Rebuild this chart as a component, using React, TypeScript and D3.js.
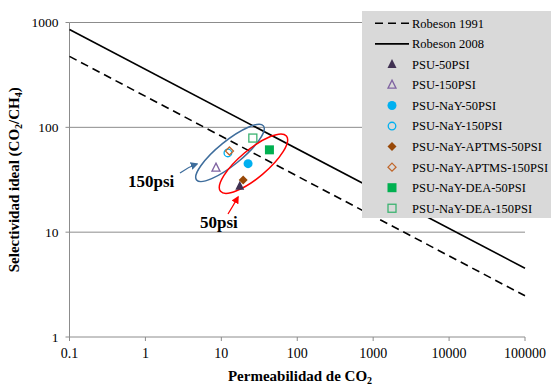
import React from "react";
import * as d3 from "d3";

const xTicks = [0.1, 1, 10, 100, 1000, 10000, 100000];
const xTickLabels = ["0.1", "1", "10", "100", "1000", "10000", "100000"];
const yTicks = [1, 10, 100, 1000];
const yTickLabels = ["1", "10", "100", "1000"];

const robeson1991 = [
  { x: 0.1, y: 475 },
  { x: 100000, y: 2.47 },
];
const robeson2008 = [
  { x: 0.1, y: 856 },
  { x: 100000, y: 4.53 },
];

type Pt = { name: string; x: number; y: number; shape: string; filled: boolean; color: string };
const points: Pt[] = [
  { name: "PSU-50PSI", x: 17.5, y: 27.5, shape: "triangle", filled: true, color: "#403152" },
  { name: "PSU-150PSI", x: 8.5, y: 41, shape: "triangle", filled: false, color: "#8064a2" },
  { name: "PSU-NaY-50PSI", x: 22.5, y: 45, shape: "circle", filled: true, color: "#00b0f0" },
  { name: "PSU-NaY-150PSI", x: 12.2, y: 57, shape: "circle", filled: false, color: "#00b0f0" },
  { name: "PSU-NaY-APTMS-50PSI", x: 19.4, y: 31.5, shape: "diamond", filled: true, color: "#984807" },
  { name: "PSU-NaY-APTMS-150PSI", x: 12.8, y: 59.5, shape: "diamond", filled: false, color: "#c0662a" },
  { name: "PSU-NaY-DEA-50PSI", x: 43, y: 61, shape: "square", filled: true, color: "#00b050" },
  { name: "PSU-NaY-DEA-150PSI", x: 26, y: 79, shape: "square", filled: false, color: "#3cb371" },
];

const ellipses = [
  { cx: 13, cy: 57, rx: 43, ry: 12, angle: -39, color: "#3e6d9c" },
  { cx: 26.5, cy: 45, rx: 43, ry: 14, angle: -40, color: "#ff0000" },
];

const W = 551;
const H = 385;
const left = 69.5;
const right = 525;
const top = 22.5;
const bottom = 337;

const x = d3.scaleLog().domain([0.1, 100000]).range([left, right]);
const y = d3.scaleLog().domain([1, 1000]).range([bottom, top]);

const line = d3
  .line<{ x: number; y: number }>()
  .x((d) => x(d.x))
  .y((d) => y(d.y));

const FONT = '"Liberation Serif", "Times New Roman", Times, serif';

function Marker({ shape, filled, color, cx, cy }: { shape: string; filled: boolean; color: string; cx: number; cy: number }) {
  const fill = filled ? color : "none";
  const sw = filled ? 0 : 1.3;
  if (shape === "triangle") {
    const s = filled ? 9 : 8;
    const p = `M${cx},${cy - s * 0.6}L${cx + s / 2},${cy + s * 0.4}L${cx - s / 2},${cy + s * 0.4}Z`;
    return <path d={p} fill={fill} stroke={color} strokeWidth={sw} />;
  }
  if (shape === "circle") {
    return <circle cx={cx} cy={cy} r={filled ? 4.5 : 3.8} fill={fill} stroke={color} strokeWidth={sw} />;
  }
  if (shape === "diamond") {
    const s = filled ? 4.5 : 4;
    const p = `M${cx},${cy - s}L${cx + s},${cy}L${cx},${cy + s}L${cx - s},${cy}Z`;
    return <path d={p} fill={fill} stroke={color} strokeWidth={sw} />;
  }
  const s = filled ? 9 : 8;
  return <rect x={cx - s / 2} y={cy - s / 2} width={s} height={s} fill={fill} stroke={color} strokeWidth={sw} />;
}

export default function App() {
  const legendItems = [
    { name: "Robeson 1991", type: "dash" },
    { name: "Robeson 2008", type: "solid" },
    ...points.map((p) => ({ name: p.name, type: "pt", p })),
  ];
  const ts = { fontFamily: FONT };
  return (
    <svg
      width={W}
      height={H}
      style={{ position: "absolute", left: 0, top: 0, background: "#fff", fontFamily: FONT }}
    >
      {yTicks.slice(1).map((t) => (
        <line key={t} x1={left} x2={right} y1={y(t)} y2={y(t)} stroke="#8c8c8c" strokeWidth={1} />
      ))}
      <line x1={left} x2={left} y1={top} y2={bottom} stroke="#8c8c8c" />
      <line x1={left} x2={right} y1={bottom} y2={bottom} stroke="#8c8c8c" />
      {yTicks.map((t) => (
        <line key={t} x1={left - 4} x2={left} y1={y(t)} y2={y(t)} stroke="#8c8c8c" />
      ))}
      {xTicks.map((t) => (
        <line key={t} x1={x(t)} x2={x(t)} y1={bottom} y2={bottom + 4} stroke="#8c8c8c" />
      ))}
      {yTicks.map((t, i) => (
        <text key={t} style={ts} x={left - 11} y={y(t)} dy="0.35em" textAnchor="end" fontSize={13.5}>
          {yTickLabels[i]}
        </text>
      ))}
      {xTicks.map((t, i) => (
        <text key={t} style={ts} x={x(t)} y={bottom + 21} textAnchor="middle" fontSize={14}>
          {xTickLabels[i]}
        </text>
      ))}
      <text style={ts} x={300} y={381} textAnchor="middle" fontSize={15} fontWeight="bold">
        Permeabilidad  de CO<tspan fontSize={10} dy={3}>2</tspan>
      </text>
      <text
        style={ts}
        transform={`translate(19,${(top + bottom) / 2}) rotate(-90)`}
        textAnchor="middle"
        fontSize={15}
        fontWeight="bold"
      >
        Selectividad ideal (CO<tspan fontSize={10} dy={3}>2</tspan>
        <tspan dy={-3}>/CH</tspan>
        <tspan fontSize={10} dy={3}>4</tspan>
        <tspan dy={-3}>)</tspan>
      </text>
      <path d={line(robeson1991) || ""} fill="none" stroke="#000" strokeWidth={1.6} strokeDasharray="8,5" />
      <path d={line(robeson2008) || ""} fill="none" stroke="#000" strokeWidth={1.6} />
      {ellipses.map((e, i) => (
        <ellipse
          key={i}
          cx={x(e.cx)}
          cy={y(e.cy)}
          rx={e.rx}
          ry={e.ry}
          transform={`rotate(${e.angle},${x(e.cx)},${y(e.cy)})`}
          fill="none"
          stroke={e.color}
          strokeWidth={1.5}
        />
      ))}
      {points.map((p) => (
        <Marker key={p.name} shape={p.shape} filled={p.filled} color={p.color} cx={x(p.x)} cy={y(p.y)} />
      ))}
      <defs>
        <marker id="ab" viewBox="0 0 10 10" refX="8" refY="5" markerWidth="6" markerHeight="6" orient="auto">
          <path d="M0,0L10,5L0,10Z" fill="#3e6d9c" />
        </marker>
        <marker id="ar" viewBox="0 0 10 10" refX="8" refY="5" markerWidth="6" markerHeight="6" orient="auto">
          <path d="M0,0L10,5L0,10Z" fill="#ff0000" />
        </marker>
      </defs>
      <path d="M180,173 Q188,167 197,164" fill="none" stroke="#3e6d9c" strokeWidth={1.3} markerEnd="url(#ab)" />
      <path d="M228,214 Q233,206 238,197" fill="none" stroke="#ff0000" strokeWidth={1.3} markerEnd="url(#ar)" />
      <text style={ts} x={128} y={187} fontSize={17} fontWeight="bold">150psi</text>
      <text style={ts} x={200} y={228} fontSize={17} fontWeight="bold">50psi</text>
      <rect x={362} y={11} width={190} height={207} fill="#d9d9d9" />
      {legendItems.map((it: any, i) => {
        const ly = 23.3 + i * 20.55;
        return (
          <g key={it.name}>
            {it.type === "dash" && (
              <line x1={375} x2={409} y1={ly} y2={ly} stroke="#000" strokeWidth={1.6} strokeDasharray="8,5" />
            )}
            {it.type === "solid" && <line x1={375} x2={409} y1={ly} y2={ly} stroke="#000" strokeWidth={1.6} />}
            {it.type === "pt" && (
              <Marker shape={it.p.shape} filled={it.p.filled} color={it.p.color} cx={392} cy={ly} />
            )}
            <text style={ts} x={412} y={ly} dy="0.35em" fontSize={12.5}>
              {it.name}
            </text>
          </g>
        );
      })}
    </svg>
  );
}
